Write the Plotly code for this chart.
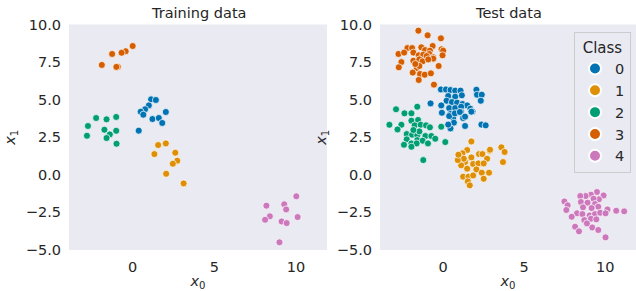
import plotly.graph_objects as go

COLORS = ["#0173B2", "#DE8F05", "#029E73", "#D55E00", "#CC78BC"]
CLASSES = ["0", "1", "2", "3", "4"]
X_TICKS = [0, 5, 10]
Y_TICKS = [-5.0, -2.5, 0.0, 2.5, 5.0, 7.5, 10.0]

# Training data (x0, x1) per class
train_x0 = {
    "0": [1.13, 1.42, 0.99, 0.76, 0.49, 0.65, 2.03, 1.21, 1.60, 1.81, 0.37],
    "1": [1.56, 2.03, 1.33, 2.61, 2.73, 2.46, 2.05, 3.12],
    "2": [-2.24, -1.60, -1.01, -2.74, -1.73, -1.01, -1.40, -2.80, -1.60, -0.99],
    "3": [0.00, -0.43, -0.68, -1.26, -1.89, -0.91, -1.00],
    "4": [10.02, 8.19, 9.28, 9.40, 8.40, 8.11, 9.12, 9.43, 10.10, 8.99],
}
train_x1 = {
    "0": [5.02, 4.98, 4.62, 4.36, 4.20, 4.00, 4.18, 3.71, 3.78, 3.45, 2.94],
    "1": [1.98, 2.09, 1.38, 1.47, 0.94, 0.74, 0.07, -0.57],
    "2": [3.78, 3.69, 3.85, 3.25, 3.00, 2.93, 2.69, 2.60, 2.45, 2.07],
    "3": [8.57, 8.22, 8.12, 8.04, 7.31, 7.19, 7.18],
    "4": [-1.43, -2.05, -1.96, -2.30, -2.76, -2.99, -3.10, -3.21, -2.81, -4.49],
}

# Test data (x0, x1) per class
test_x0 = {
    "0": [-0.14, 0.17, 0.45, 0.74, 1.07, 2.05, 0.31, 1.15, 0.74, 2.09, 2.38, 2.32,
          -0.78, 0.21, 0.54, 0.86, 1.19, -0.12, 1.48, 0.37, 0.74, 1.11, 1.68, 1.81,
          -0.08, 0.45, 0.78, 1.11, 0.62, 1.23, 0.37, 0.72, 1.03, 1.35, 1.74, 0.66,
          0.45, 1.35, 0.31, 2.36, 2.62],
    "1": [1.74, 3.59, 3.79, 3.69, 1.48, 1.19, 1.03, 1.74, 2.21, 2.42, 2.87, 2.71,
          1.35, 1.85, 2.17, 2.50, 1.11, 1.48, 2.05, 2.38, 2.83, 1.23, 1.56, 1.85,
          2.50, 1.52, 1.64, 1.27, 0.90, 0.94, 2.89],
    "2": [-2.91, -1.60, -2.39, -1.96, -3.32, -2.58, -2.82, -1.96, -1.55, -1.76,
          -1.39, -1.06, -0.82, -0.12, -2.25, -1.92, -1.60, -1.10, -0.73, -0.49,
          -2.25, -1.60, -1.27, -2.42, -1.96, -1.64, -0.94, 0.13, -1.96, -1.23,
          -1.47, -1.84],
    "3": [-1.53, -0.96, -0.14, -2.21, -1.92, -1.35, -0.65, -1.12, -0.82, -0.10,
          0.00, -2.76, -2.41, -1.84, -1.51, -1.23, -0.86, -0.61, -0.04, -2.58,
          -1.84, -1.47, -1.27, -0.61, -2.74, -1.64, -1.47, -0.28, -1.88, -1.43,
          -1.14, -0.76, -1.51, -0.57, -1.72, -1.02, -0.92],
    "4": [9.49, 9.12, 8.79, 8.46, 9.90, 9.61, 9.28, 8.50, 7.48, 7.68, 8.91, 9.37,
          9.57, 8.63, 9.16, 10.14, 10.68, 11.17, 7.60, 8.26, 8.59, 9.04, 9.37, 9.69,
          10.02, 7.93, 8.71, 9.12, 9.45, 8.14, 8.38, 9.20, 9.57, 10.02, 8.87],
}
test_x1 = {
    "0": [5.68, 5.68, 5.64, 5.60, 5.60, 5.66, 5.24, 5.29, 5.20, 5.33, 5.33, 4.93,
          4.75, 4.93, 4.84, 4.80, 4.71, 4.62, 4.62, 4.44, 4.44, 4.53, 4.40, 4.22,
          4.13, 4.05, 4.09, 4.18, 3.78, 3.78, 3.91, 4.09, 4.18, 3.87, 4.20, 3.47,
          3.09, 3.25, 3.34, 3.34, 3.29],
    "1": [2.22, 1.83, 1.52, 0.85, 1.65, 1.43, 1.16, 1.16, 1.38, 1.38, 1.61, 1.07,
          0.85, 0.72, 0.76, 0.76, 0.63, 0.41, 0.36, 0.14, 0.14, -0.12, -0.12, -0.04,
          -0.26, -0.44, -0.70, 1.07, 0.98, 1.34, 1.67],
    "2": [4.36, 4.53, 4.09, 4.09, 3.33, 3.33, 3.02, 3.60, 3.65, 3.29, 3.33, 3.29,
          3.16, 3.20, 2.71, 2.67, 2.62, 2.58, 2.58, 2.40, 2.36, 2.31, 2.27, 2.00,
          2.09, 2.09, 2.09, 2.18, 1.87, 0.98, 2.89, 2.98],
    "3": [9.59, 9.28, 9.08, 8.43, 8.43, 8.48, 8.57, 8.30, 8.26, 8.35, 8.26, 8.04,
          8.13, 8.13, 7.95, 7.99, 8.04, 7.82, 7.95, 7.50, 7.59, 7.68, 7.55, 7.73,
          7.15, 7.11, 7.24, 7.24, 6.80, 6.71, 6.66, 6.75, 6.31, 6.00, 7.37, 7.90,
          7.68],
    "4": [-1.14, -1.32, -1.41, -1.41, -1.37, -1.63, -1.59, -1.81, -1.77, -2.03,
          -1.85, -1.94, -2.12, -2.16, -2.21, -2.30, -2.39, -2.43, -2.34, -2.56,
          -2.61, -2.70, -2.61, -2.52, -2.56, -2.79, -3.01, -2.92, -2.96, -3.45,
          -3.76, -3.50, -3.67, -4.16, -3.23],
}

TEXT = "#262626"
FONT = "DejaVu Sans"
FS = 14.5
W, H = 636, 291

fig = go.Figure()
for i, c in enumerate(CLASSES):
    mk = dict(color=COLORS[i], size=7, line=dict(color="white", width=0.7))
    fig.add_trace(go.Scatter(x=train_x0[c], y=train_x1[c], mode="markers",
                             marker=mk, xaxis="x", yaxis="y", showlegend=False,
                             name=c))
for i, c in enumerate(CLASSES):
    mk = dict(color=COLORS[i], size=7, line=dict(color="white", width=0.7))
    fig.add_trace(go.Scatter(x=test_x0[c], y=test_x1[c], mode="markers",
                             marker=mk, xaxis="x2", yaxis="y2", showlegend=True,
                             name=c))

xr = [-3.9, 11.9]
yr = [-5, 10]
top = 1 - 24.5 / H
bot = 1 - 250 / H


def xaxis(dom, anchor):
    return dict(domain=dom, range=xr, anchor=anchor, automargin=False,
                tickvals=X_TICKS, ticktext=[str(v) for v in X_TICKS],
                showgrid=False, zeroline=False, showline=False, ticks="",
                ticklabelstandoff=6,
                tickfont=dict(family=FONT, size=FS, color=TEXT),
                title=dict(text="<i>x</i><sub>0</sub>", standoff=4,
                           font=dict(family=FONT, size=FS, color=TEXT)))


def yaxis(anchor):
    return dict(domain=[bot, top], range=yr, tickvals=Y_TICKS,
                tickformat=".1f", anchor=anchor, automargin=False,
                showgrid=False, zeroline=False, showline=False, ticks="",
                ticklabelstandoff=7,
                tickfont=dict(family=FONT, size=FS, color=TEXT),
                title=dict(text="<i>x</i><sub>1</sub>", standoff=6,
                           font=dict(family=FONT, size=FS, color=TEXT)))


fig.update_layout(
    width=W, height=H,
    margin=dict(l=0, r=0, t=0, b=0, pad=0, autoexpand=False),
    paper_bgcolor="white",
    plot_bgcolor="#EAEAF2",
    font=dict(family=FONT, size=FS, color=TEXT),
    xaxis=xaxis([69 / W, 327 / W], "y"),
    yaxis=yaxis("x"),
    xaxis2=xaxis([380 / W, 1.0], "y2"),
    yaxis2=yaxis("x2"),
    showlegend=True,
    legend=dict(title=dict(text="Class", side="top center",
                           font=dict(family=FONT, size=FS + 0.5, color=TEXT)),
                x=631 / W, xanchor="right", y=1 - 32 / H, yanchor="top",
                bgcolor="rgba(234,234,242,0.8)", bordercolor="#CCCCCC",
                borderwidth=1, font=dict(family=FONT, size=FS, color=TEXT),
                itemsizing="constant"),
    annotations=[
        dict(text="Training data", x=(69 + 327) / 2 / W, y=1 - 13 / H,
             xref="paper", yref="paper", showarrow=False, xanchor="center",
             font=dict(family=FONT, size=FS, color=TEXT), yanchor="middle"),
        dict(text="Test data", x=(380 + 636) / 2 / W, y=1 - 13 / H,
             xref="paper", yref="paper", showarrow=False, xanchor="center",
             font=dict(family=FONT, size=FS, color=TEXT), yanchor="middle"),
    ],
)

fig.write_html("out.html",
               config={"displayModeBar": False},
               post_script="document.body.style.margin='0';document.body.style.overflow='hidden';")
